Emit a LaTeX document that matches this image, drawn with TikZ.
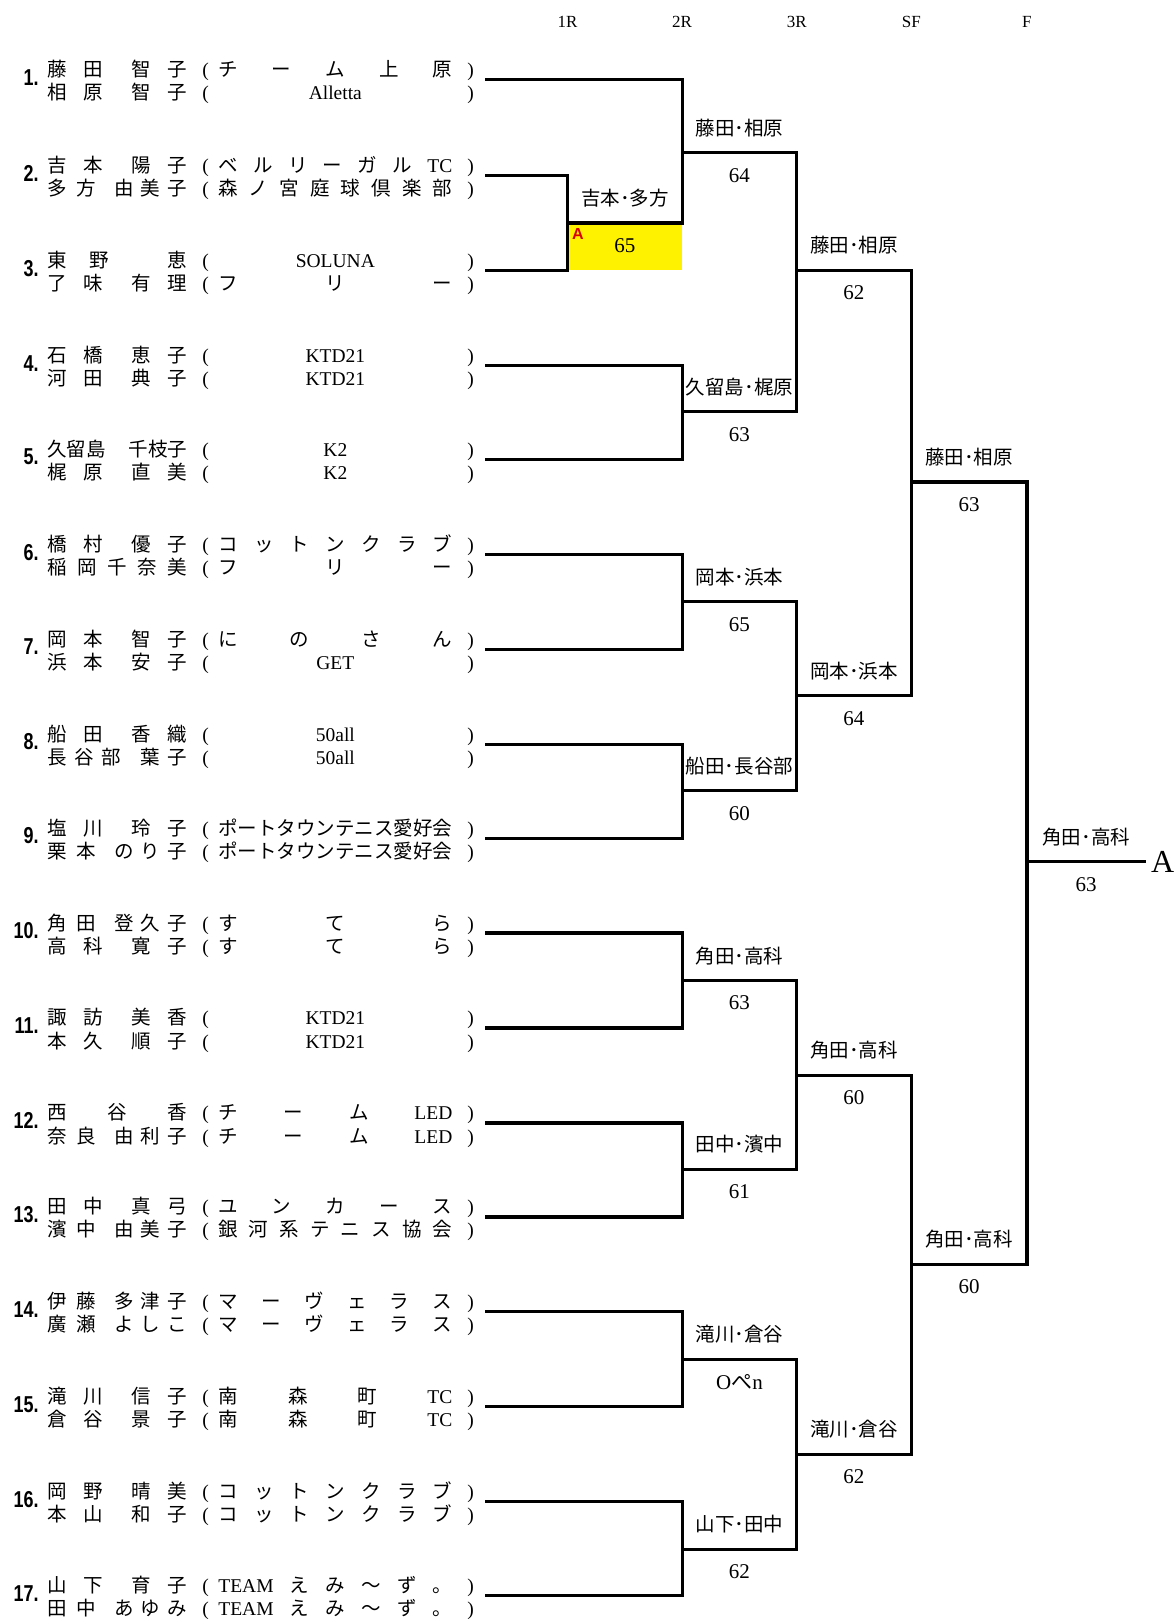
\documentclass[tikz,border=0pt]{standalone}
\usepackage{fontspec}
\usepackage{graphicx}
\setmainfont{Liberation Serif}
\newfontfamily\cjk{Noto Sans CJK JP}
\newfontfamily\numf{Liberation Sans}
\newfontfamily\lat{Liberation Serif}
\newcommand\zq{\hfill}
\newcommand\LL[1]{{\lat #1}}
% name layouts: family / given groups
\newcommand\nmA[2]{\makebox[27.9pt][l]{#1}\hfill\makebox[27.9pt][l]{#2}}
\newcommand\nmB[2]{\makebox[24.3pt][l]{#1}\hfill\makebox[36.6pt][l]{#2}}
\newcommand\nmC[2]{\makebox[37pt][l]{#1}\hfill\makebox[23.2pt][l]{#2}}
\newcommand\nmD[2]{\makebox[31pt][l]{#1}\hfill#2}
\newcommand\entryline[2]{\makebox[70pt][l]{#1}\makebox[15.5pt][l]{\hspace{7.5pt}{\lat (}}\makebox[117pt][l]{#2}\makebox[15pt][l]{\hspace{7.5pt}{\lat )}}}
\newcommand\entrypair[6]{%
 \coordinate (s#1) at (470,#2);
 \node[numlab] (num#1) at (37.8,#2-2) {\scalebox{0.78}[1]{#1.}};
 \node[namelab] (up#1) at (45.5,#2-2.8) {\entryline{#3}{#4}};
 \node[namelab] (lo#1) at (45.5,#2+19.6) {\entryline{#5}{#6}};
}
\newcommand\matchres[5]{%
 \node[win] (w#1) at (#2,#3-24) {#4};
 \node[score] (sc#1) at (#2,#3+22) {#5};
}
\begin{document}
\begin{tikzpicture}[x=0.5pt,y=-0.5pt,
  numlab/.style={anchor=east,inner sep=0pt,font=\numf\bfseries\fontsize{11.5pt}{11.5pt}\selectfont},
  namelab/.style={anchor=base west,inner sep=0pt,font=\cjk\fontsize{9.75pt}{9.75pt}\selectfont},
  win/.style={inner sep=0pt,font=\cjk\fontsize{9.75pt}{9.75pt}\selectfont},
  score/.style={inner sep=0pt,font=\lat\fontsize{10.5pt}{10.5pt}\selectfont},
  hdr/.style={inner sep=0pt,font=\lat\fontsize{8.5pt}{8.5pt}\selectfont},
  br/.style={line width=1.6pt}]
\begin{scope}[scale=1.032]
\fill[white] (0,0) rectangle (1137.6,1568.8);
\useasboundingbox (0,0) rectangle (1137.6,1568.8);
% headers
\node[hdr] (h1) at (550,21) {1R};
\node[hdr] (h2) at (661,21) {2R};
\node[hdr] (h3) at (772,21) {3R};
\node[hdr] (h4) at (883,21) {SF};
\node[hdr] (h5) at (995,21) {F};
% entries
\entrypair{1}{77}{\nmA{藤\zq 田}{智\zq 子}}{チ\zq ー\zq ム\zq 上\zq 原}{\nmA{相\zq 原}{智\zq 子}}{\zq\LL{Alletta}\zq}
\entrypair{2}{170}{\nmA{吉\zq 本}{陽\zq 子}}{ベ\zq ル\zq リ\zq ー\zq ガ\zq ル\zq\LL{TC}}{\nmB{多\zq 方}{由\zq 美\zq 子}}{森\zq ノ\zq 宮\zq 庭\zq 球\zq 倶\zq 楽\zq 部}
\entrypair{3}{262}{\nmD{東\zq 野}{恵}}{\zq\LL{SOLUNA}\zq}{\nmA{了\zq 味}{有\zq 理}}{フ\zq リ\zq ー}
\entrypair{4}{354}{\nmA{石\zq 橋}{恵\zq 子}}{\zq\LL{KTD21}\zq}{\nmA{河\zq 田}{典\zq 子}}{\zq\LL{KTD21}\zq}
\entrypair{5}{445}{久留島\zq 千枝子}{\zq\LL{K2}\zq}{\nmA{梶\zq 原}{直\zq 美}}{\zq\LL{K2}\zq}
\entrypair{6}{537}{\nmA{橋\zq 村}{優\zq 子}}{コ\zq ッ\zq ト\zq ン\zq ク\zq ラ\zq ブ}{稲\zq 岡\zq 千\zq 奈\zq 美}{フ\zq リ\zq ー}
\entrypair{7}{629}{\nmA{岡\zq 本}{智\zq 子}}{に\zq の\zq さ\zq ん}{\nmA{浜\zq 本}{安\zq 子}}{\zq\LL{GET}\zq}
\entrypair{8}{721}{\nmA{船\zq 田}{香\zq 織}}{\zq\LL{50all}\zq}{\nmC{長\zq 谷\zq 部}{葉\zq 子}}{\zq\LL{50all}\zq}
\entrypair{9}{812}{\nmA{塩\zq 川}{玲\zq 子}}{ポートタウンテニス愛好会}{\nmB{栗\zq 本}{の\zq り\zq 子}}{ポートタウンテニス愛好会}
\entrypair{10}{904}{\nmB{角\zq 田}{登\zq 久\zq 子}}{す\zq て\zq ら}{\nmA{高\zq 科}{寛\zq 子}}{す\zq て\zq ら}
\entrypair{11}{996}{\nmA{諏\zq 訪}{美\zq 香}}{\zq\LL{KTD21}\zq}{\nmA{本\zq 久}{順\zq 子}}{\zq\LL{KTD21}\zq}
\entrypair{12}{1088}{西\zq 谷\zq 香}{チ\zq ー\zq ム\zq\LL{LED}}{\nmB{奈\zq 良}{由\zq 利\zq 子}}{チ\zq ー\zq ム\zq\LL{LED}}
\entrypair{13}{1179}{\nmA{田\zq 中}{真\zq 弓}}{ユ\zq ン\zq カ\zq ー\zq ス}{\nmB{濱\zq 中}{由\zq 美\zq 子}}{銀\zq 河\zq 系\zq テ\zq ニ\zq ス\zq 協\zq 会}
\entrypair{14}{1271}{\nmB{伊\zq 藤}{多\zq 津\zq 子}}{マ\zq ー\zq ヴ\zq ェ\zq ラ\zq ス}{\nmB{廣\zq 瀬}{よ\zq し\zq こ}}{マ\zq ー\zq ヴ\zq ェ\zq ラ\zq ス}
\entrypair{15}{1363}{\nmA{滝\zq 川}{信\zq 子}}{南\zq 森\zq 町\zq\LL{TC}}{\nmA{倉\zq 谷}{景\zq 子}}{南\zq 森\zq 町\zq\LL{TC}}
\entrypair{16}{1455}{\nmA{岡\zq 野}{晴\zq 美}}{コ\zq ッ\zq ト\zq ン\zq ク\zq ラ\zq ブ}{\nmA{本\zq 山}{和\zq 子}}{コ\zq ッ\zq ト\zq ン\zq ク\zq ラ\zq ブ}
\entrypair{17}{1546}{\nmA{山\zq 下}{育\zq 子}}{\LL{TEAM}\zq え\zq み\zq ～\zq ず\zq 。}{\nmB{田\zq 中}{あ\zq ゆ\zq み}}{\LL{TEAM}\zq え\zq み\zq ～\zq ず\zq 。}
% yellow score cell
\fill[yellow] (550,216) rectangle (661,262);
\node[text=red!85!black,inner sep=0pt,font=\numf\bfseries\fontsize{8pt}{8pt}\selectfont] (mark) at (560,227) {A};
% 1R
\coordinate (b1) at (550,262); \coordinate (o1) at (550,216);
\draw[br] (s2) -| (b1) -- (s3);
% 2R
\coordinate (bA) at (661,216); \coordinate (oA) at (661,148);
\draw[br] (s1) -| (bA) -- (o1);
\coordinate (bB) at (661,445); \coordinate (oB) at (661,399);
\draw[br] (s4) -| (bB) -- (s5);
\coordinate (bC) at (661,629); \coordinate (oC) at (661,583);
\draw[br] (s6) -| (bC) -- (s7);
\coordinate (bD) at (661,812); \coordinate (oD) at (661,766);
\draw[br] (s8) -| (bD) -- (s9);
\coordinate (bE) at (661,996); \coordinate (oE) at (661,950);
\draw[br] (s10) -| (bE) -- (s11);
\coordinate (bF) at (661,1179); \coordinate (oF) at (661,1133);
\draw[br] (s12) -| (bF) -- (s13);
\coordinate (bG) at (661,1363); \coordinate (oG) at (661,1317);
\draw[br] (s14) -| (bG) -- (s15);
\coordinate (bH) at (661,1546); \coordinate (oH) at (661,1501);
\draw[br] (s16) -| (bH) -- (s17);
% 3R
\coordinate (bAB) at (772,399); \coordinate (oAB) at (772,262);
\draw[br] (oA) -| (bAB) -- (oB);
\coordinate (bCD) at (772,766); \coordinate (oCD) at (772,674);
\draw[br] (oC) -| (bCD) -- (oD);
\coordinate (bEF) at (772,1133); \coordinate (oEF) at (772,1042);
\draw[br] (oE) -| (bEF) -- (oF);
\coordinate (bGH) at (772,1501); \coordinate (oGH) at (772,1409);
\draw[br] (oG) -| (bGH) -- (oH);
% SF
\coordinate (bS1) at (883,674); \coordinate (oS1) at (883,467);
\draw[br] (oAB) -| (bS1) -- (oCD);
\coordinate (bS2) at (883,1409); \coordinate (oS2) at (883,1225);
\draw[br] (oEF) -| (bS2) -- (oGH);
% F
\coordinate (bFin) at (995,1225); \coordinate (oFin) at (995,835);
\draw[br] (oS1) -| (bFin) -- (oS2);
\coordinate (fin) at (1110,835);
\draw[br] (oFin) -- (fin);
\node[anchor=west,inner sep=0pt,font=\lat\fontsize{16pt}{16pt}\selectfont] (champ) at (1115,835) {A};
% results
\matchres{o1}{605.5}{216}{吉本･多方}{65}
\matchres{oA}{716.5}{148}{藤田･相原}{64}
\matchres{oB}{716.5}{399}{久留島･梶原}{63}
\matchres{oC}{716.5}{583}{岡本･浜本}{65}
\matchres{oD}{716.5}{766}{船田･長谷部}{60}
\matchres{oE}{716.5}{950}{角田･高科}{63}
\matchres{oF}{716.5}{1133}{田中･濱中}{61}
\matchres{oG}{716.5}{1317}{滝川･倉谷}{O{\cjk ぺ}n}
\matchres{oH}{716.5}{1501}{山下･田中}{62}
\matchres{oAB}{827.5}{262}{藤田･相原}{62}
\matchres{oCD}{827.5}{674}{岡本･浜本}{64}
\matchres{oEF}{827.5}{1042}{角田･高科}{60}
\matchres{oGH}{827.5}{1409}{滝川･倉谷}{62}
\matchres{oS1}{939}{467}{藤田･相原}{63}
\matchres{oS2}{939}{1225}{角田･高科}{60}
\matchres{oFin}{1052.5}{835}{角田･高科}{63}
\end{scope}
\end{tikzpicture}
\end{document}
